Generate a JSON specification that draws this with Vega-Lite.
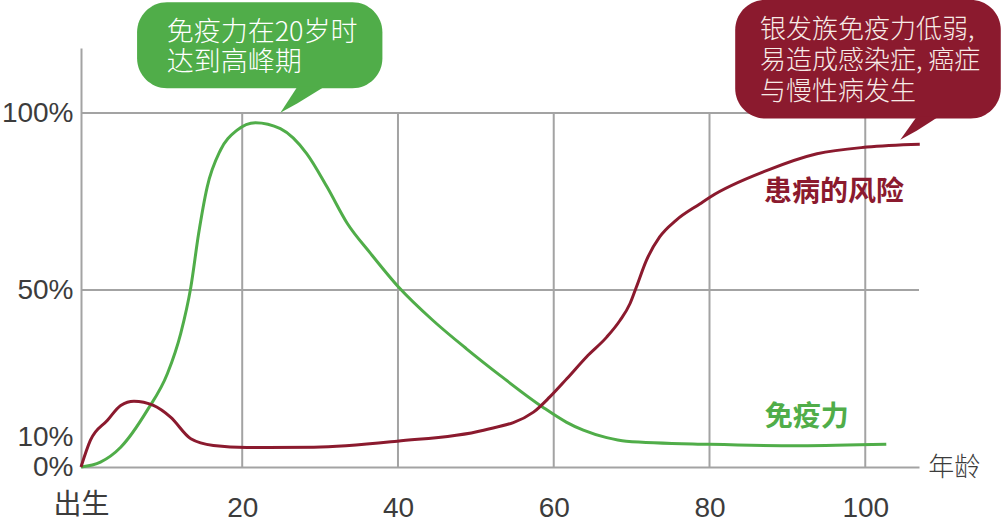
{
  "$schema": "https://vega.github.io/schema/vega-lite/v6.json",
  "autosize": "none",
  "width": 838,
  "height": 419,
  "padding": {"left": 81, "top": 48, "right": 82, "bottom": 52},
  "background": "white",
  "config": {"view": {"stroke": null}},
  "datasets": {
    "curves": [
      {"series": "免疫力", "age": -0.7, "value": 0},
      {"series": "免疫力", "age": 1.8, "value": 1.4},
      {"series": "免疫力", "age": 4.4, "value": 5.6},
      {"series": "免疫力", "age": 7.8, "value": 16},
      {"series": "免疫力", "age": 10.4, "value": 26.4},
      {"series": "免疫力", "age": 12.1, "value": 37.7},
      {"series": "免疫力", "age": 13.4, "value": 50.8},
      {"series": "免疫力", "age": 14.4, "value": 65.9},
      {"series": "免疫力", "age": 15.5, "value": 79.1},
      {"series": "免疫力", "age": 17.2, "value": 89.5},
      {"series": "免疫力", "age": 19.3, "value": 95.1},
      {"series": "免疫力", "age": 21.7, "value": 97.3},
      {"series": "免疫力", "age": 24.9, "value": 95.6},
      {"series": "免疫力", "age": 28.3, "value": 88.5},
      {"series": "免疫力", "age": 30.9, "value": 79.1},
      {"series": "免疫力", "age": 33.5, "value": 68.8},
      {"series": "免疫力", "age": 36.5, "value": 60.3},
      {"series": "免疫力", "age": 40.1, "value": 50.8},
      {"series": "免疫力", "age": 44.5, "value": 41.4},
      {"series": "免疫力", "age": 48.8, "value": 33.4},
      {"series": "免疫力", "age": 53.1, "value": 25.9},
      {"series": "免疫力", "age": 58.6, "value": 16.9},
      {"series": "免疫力", "age": 61.6, "value": 12.7},
      {"series": "免疫力", "age": 63.8, "value": 10.4},
      {"series": "免疫力", "age": 66.8, "value": 8.3},
      {"series": "免疫力", "age": 69.3, "value": 7.3},
      {"series": "免疫力", "age": 80.0, "value": 6.4},
      {"series": "免疫力", "age": 91.6, "value": 6.0},
      {"series": "免疫力", "age": 102.7, "value": 6.4},
      {"series": "患病的风险", "age": -0.7, "value": 0},
      {"series": "患病的风险", "age": 0.5, "value": 7.5},
      {"series": "患病的风险", "age": 2.7, "value": 13.2},
      {"series": "患病的风险", "age": 4.4, "value": 17.4},
      {"series": "患病的风险", "age": 6.1, "value": 18.6},
      {"series": "患病的风险", "age": 8.6, "value": 17.4},
      {"series": "患病的风险", "age": 10.8, "value": 14.1},
      {"series": "患病的风险", "age": 13.4, "value": 8.0},
      {"series": "患病的风险", "age": 16.3, "value": 6.1},
      {"series": "患病的风险", "age": 20.6, "value": 5.5},
      {"series": "患病的风险", "age": 29.2, "value": 5.6},
      {"series": "患病的风险", "age": 39.9, "value": 7.3},
      {"series": "患病的风险", "age": 51.0, "value": 10.4},
      {"series": "患病的风险", "age": 57.4, "value": 15.5},
      {"series": "患病的风险", "age": 59.5, "value": 19.8},
      {"series": "患病的风险", "age": 61.7, "value": 25.0},
      {"series": "患病的风险", "age": 64.2, "value": 31.1},
      {"series": "患病的风险", "age": 66.8, "value": 36.7},
      {"series": "患病的风险", "age": 68.5, "value": 41.4},
      {"series": "患病的风险", "age": 69.8, "value": 46.2},
      {"series": "患病的风险", "age": 70.6, "value": 50.8},
      {"series": "患病的风险", "age": 71.9, "value": 58.4},
      {"series": "患病的风险", "age": 73.6, "value": 65.0},
      {"series": "患病的风险", "age": 75.7, "value": 69.7},
      {"series": "患病的风险", "age": 78.8, "value": 74.4},
      {"series": "患病的风险", "age": 80.1, "value": 76.3},
      {"series": "患病的风险", "age": 87.4, "value": 83.8},
      {"series": "患病的风险", "age": 93.8, "value": 88.5},
      {"series": "患病的风险", "age": 100.2, "value": 90.4},
      {"series": "患病的风险", "age": 107.0, "value": 91.2}
    ],
    "vgrid": [
      {"age": 20, "lo": 0, "hi": 100},
      {"age": 40, "lo": 0, "hi": 100},
      {"age": 60, "lo": 0, "hi": 100},
      {"age": 80, "lo": 0, "hi": 100},
      {"age": 100, "lo": 0, "hi": 100}
    ],
    "hgrid": [
      {"value": 50, "from": -0.7, "to": 106.9},
      {"value": 100, "from": -0.7, "to": 106.9}
    ],
    "boxes": [
      {"note": "green", "x0": 6.5, "x1": 38.0, "y0": 107.0, "y1": 131.3},
      {"note": "red", "x0": 83.3, "x1": 117.4, "y0": 98.5, "y1": 132.0}
    ],
    "tails": [
      {"note": "green", "age": 24.9, "top": 100.1, "bottom": 100.1},
      {"note": "green", "age": 27.1, "top": 107.5, "bottom": 102.8},
      {"note": "green", "age": 30.6, "top": 107.5, "bottom": 107.5},
      {"note": "red", "age": 104.5, "top": 92.5, "bottom": 92.5},
      {"note": "red", "age": 106.6, "top": 99.0, "bottom": 95.0},
      {"note": "red", "age": 109.4, "top": 99.0, "bottom": 99.0}
    ],
    "notes": [
      {"note": "green", "age": 10.3, "value": 122.7, "text": "免疫力在20岁时|达到高峰期"},
      {"note": "red", "age": 86.5, "value": 123.6, "text": "银发族免疫力低弱,|易造成感染症, 癌症|与慢性病发生"}
    ],
    "labels": [
      {"series": "患病的风险", "age": 96.0, "value": 77.3},
      {"series": "免疫力", "age": 92.5, "value": 13.8}
    ],
    "axisname": [
      {"age": 108.1, "value": -0.4, "text": "年龄"}
    ]
  },
  "layer": [
    {
      "data": {"name": "vgrid"},
      "mark": {"type": "rule", "color": "#a3a3a3", "strokeWidth": 2},
      "encoding": {
        "x": {"field": "age", "type": "quantitative", "scale": {"domain": [-0.7, 106.9], "nice": false, "zero": false},
          "axis": {
            "values": [-0.7, 20, 40, 60, 80, 100],
            "labelExpr": "datum.value < 0 ? '出生' : datum.label",
            "title": null, "grid": false, "ticks": false,
            "domainColor": "#a3a3a3", "domainWidth": 2,
            "labelFont": "Liberation Sans, Noto Sans CJK SC", "labelFontSize": 28,
            "labelColor": "#3c3c3c", "labelFlush": false, "labelOverlap": false,
            "labelPadding": {"condition": {"test": "datum.value < 0", "value": 24}, "value": 27}
          }},
        "y": {"field": "lo", "type": "quantitative", "scale": {"domain": [0, 118.4], "nice": false},
          "axis": {
            "values": [0, 10, 50, 100],
            "labelExpr": "datum.value + '%'",
            "title": null, "grid": false, "ticks": false,
            "domainColor": "#a3a3a3", "domainWidth": 2,
            "labelFont": "Liberation Sans", "labelFontSize": 28,
            "labelColor": "#3c3c3c", "labelPadding": 8, "labelOverlap": false, "labelFlush": false,
            "labelOffset": {"condition": {"test": "datum.value == 10", "value": 6}, "value": 0}
          }},
        "y2": {"field": "hi"}
      }
    },
    {
      "data": {"name": "hgrid"},
      "mark": {"type": "rule", "color": "#a3a3a3", "strokeWidth": 2},
      "encoding": {
        "y": {"field": "value", "type": "quantitative"},
        "x": {"field": "from", "type": "quantitative"},
        "x2": {"field": "to"}
      }
    },
    {
      "data": {"name": "curves"},
      "mark": {"type": "line", "strokeWidth": 3, "interpolate": "monotone"},
      "encoding": {
        "x": {"field": "age", "type": "quantitative"},
        "y": {"field": "value", "type": "quantitative"},
        "color": {"field": "series", "type": "nominal", "legend": null}
      }
    },
    {
      "data": {"name": "boxes"},
      "mark": {"type": "rect", "cornerRadius": 30},
      "encoding": {
        "x": {"field": "x0", "type": "quantitative"},
        "x2": {"field": "x1"},
        "y": {"field": "y0", "type": "quantitative"},
        "y2": {"field": "y1"},
        "color": {"field": "note", "type": "nominal", "legend": null}
      }
    },
    {
      "data": {"name": "tails"},
      "mark": {"type": "area", "interpolate": "linear"},
      "encoding": {
        "x": {"field": "age", "type": "quantitative"},
        "y": {"field": "top", "type": "quantitative"},
        "y2": {"field": "bottom"},
        "detail": {"field": "note"},
        "color": {"field": "note", "type": "nominal", "legend": null}
      }
    },
    {
      "data": {"name": "notes"},
      "transform": [{"filter": "datum.note == 'green'"}],
      "mark": {"type": "text", "align": "left", "baseline": "middle", "font": "Noto Sans CJK SC", "fontSize": 27, "fontWeight": 300, "lineBreak": "|", "lineHeight": 30, "color": "#ffffff"},
      "encoding": {
        "x": {"field": "age", "type": "quantitative"},
        "y": {"field": "value", "type": "quantitative"},
        "text": {"field": "text"}
      }
    },
    {
      "data": {"name": "notes"},
      "transform": [{"filter": "datum.note == 'red'"}],
      "mark": {"type": "text", "align": "left", "baseline": "middle", "font": "Noto Sans CJK SC", "fontSize": 26, "fontWeight": 300, "lineBreak": "|", "lineHeight": 31, "color": "#f7ebe6"},
      "encoding": {
        "x": {"field": "age", "type": "quantitative"},
        "y": {"field": "value", "type": "quantitative"},
        "text": {"field": "text"}
      }
    },
    {
      "data": {"name": "labels"},
      "mark": {"type": "text", "align": "center", "baseline": "middle", "font": "Noto Sans CJK SC", "fontSize": 28, "fontWeight": "bold"},
      "encoding": {
        "x": {"field": "age", "type": "quantitative"},
        "y": {"field": "value", "type": "quantitative"},
        "text": {"field": "series"},
        "color": {"field": "series", "type": "nominal", "legend": null}
      }
    },
    {
      "data": {"name": "axisname"},
      "mark": {"type": "text", "align": "left", "baseline": "middle", "font": "Noto Sans CJK SC", "fontSize": 26, "fontWeight": 300, "color": "#3c3c3c"},
      "encoding": {
        "x": {"field": "age", "type": "quantitative"},
        "y": {"field": "value", "type": "quantitative"},
        "text": {"field": "text"}
      }
    }
  ],
  "resolve": {"scale": {"color": "shared"}},
  "encoding": {
    "color": {"scale": {"domain": ["免疫力", "患病的风险", "green", "red"], "range": ["#50ad49", "#8b1a2e", "#50ad49", "#8b1a2e"]}}
  }
}
